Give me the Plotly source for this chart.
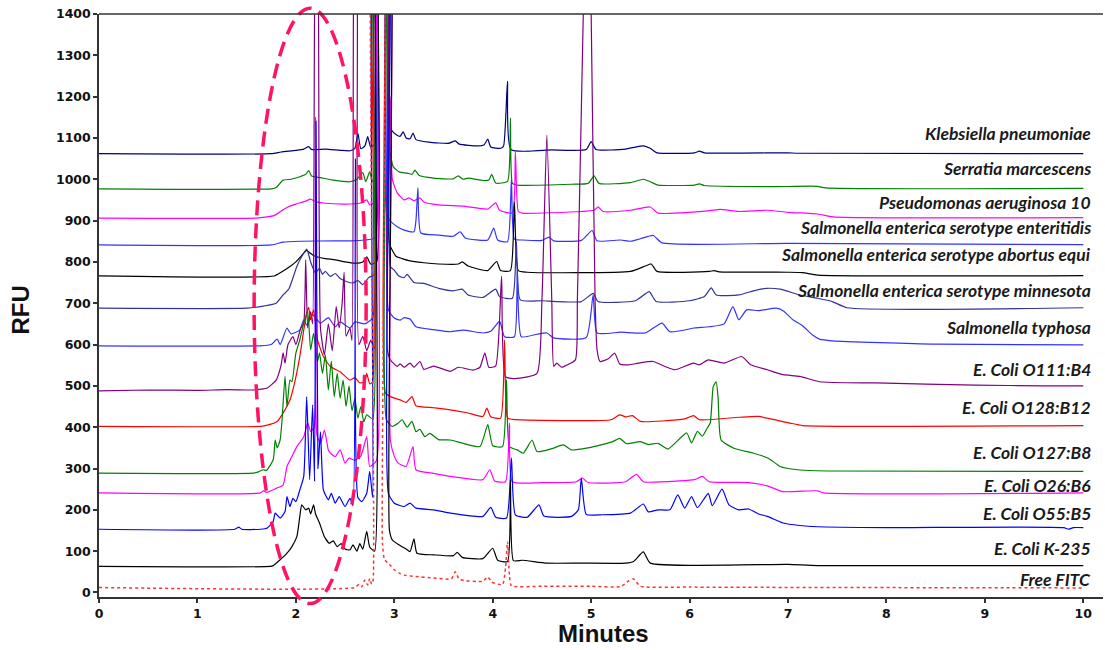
import plotly.graph_objects as go

# ---------------------------------------------------------------------------
# Electropherogram traces: (minutes, RFU) vertices, each trace already offset
# ---------------------------------------------------------------------------
KLEBSIELLA = [(0, 1062), (1.75, 1062), (1.85, 1066), (2.0, 1070), (2.08, 1073), (2.13, 1079), (2.16, 1072),
              (2.3, 1073), (2.45, 1070), (2.55, 1069), (2.60, 1075), (2.63, 1112), (2.66, 1074), (2.70, 1080),
              (2.73, 1103), (2.76, 1078), (2.80, 1085), (2.82, 2200), (2.91, 2200), (2.94, 1150), (2.97, 1120),
              (3.02, 1108), (3.06, 1104), (3.09, 1115), (3.12, 1100), (3.16, 1098), (3.19, 1112), (3.22, 1096),
              (3.35, 1090), (3.55, 1087), (3.62, 1093), (3.66, 1085), (3.85, 1081), (3.91, 1083), (3.95, 1097),
              (3.98, 1078), (4.08, 1075), (4.11, 1080), (4.15, 1237), (4.185, 1072), (4.6, 1071), (4.95, 1072),
              (5.0, 1091), (5.05, 1072), (5.35, 1073), (5.45, 1078), (5.53, 1081), (5.6, 1075), (5.67, 1064),
              (6.05, 1064), (6.1, 1068), (6.15, 1064), (7.0, 1064), (7.1, 1063), (10, 1062)]

SERRATIA = [(0, 977), (1.75, 977), (1.8, 980), (1.87, 998), (1.95, 1000), (2.04, 1006), (2.1, 1012),
            (2.13, 1021), (2.16, 1008), (2.25, 1004), (2.38, 998), (2.55, 994), (2.62, 1000), (2.68, 1016),
            (2.71, 994), (2.75, 1018), (2.78, 995), (2.81, 1000), (2.83, 2200), (2.92, 2200), (2.95, 1080),
            (2.99, 1030), (3.05, 1018), (3.13, 1015), (3.18, 1012), (3.21, 1022), (3.25, 1010), (3.4, 1003),
            (3.6, 1001), (3.65, 1008), (3.7, 1000), (3.75, 1003), (3.9, 997), (3.96, 998), (3.99, 1012),
            (4.03, 991), (4.15, 995), (4.18, 1148), (4.20, 990), (4.25, 986), (4.8, 988), (4.97, 990),
            (5.03, 1008), (5.08, 990), (5.4, 992), (5.53, 1000), (5.6, 994), (5.68, 986), (6.05, 986),
            (6.1, 989), (6.15, 985), (6.8, 982), (7.3, 983), (7.38, 979), (10, 978)]

PSEUDOMONAS = [(0, 906), (1.6, 906), (1.67, 908), (1.78, 912), (1.87, 926), (1.93, 934), (2.0, 940),
               (2.1, 947), (2.15, 952), (2.2, 946), (2.3, 942), (2.5, 940), (2.65, 942), (2.72, 950),
               (2.75, 938), (2.80, 945), (2.83, 2200), (2.88, 2200), (2.91, 980), (2.94, 1000), (2.96, 1199),
               (2.98, 1000), (3.03, 967), (3.1, 950), (3.15, 955), (3.2, 948), (3.26, 955), (3.3, 945),
               (3.45, 938), (3.7, 935), (3.95, 928), (4.03, 943), (4.07, 925), (4.2, 919), (4.23, 1067),
               (4.26, 922), (4.3, 918), (4.9, 922), (5.03, 925), (5.07, 933), (5.12, 922), (5.4, 925),
               (5.6, 933), (5.68, 918), (6.2, 924), (6.31, 927), (6.5, 922), (6.79, 925), (7.0, 920),
               (7.3, 916), (7.46, 909), (10, 907)]

ENTERITIDIS = [(0, 841), (1.75, 841), (1.87, 848), (2.05, 850), (2.4, 851), (2.55, 851), (2.7, 853),
               (2.8, 858), (2.84, 2200), (2.90, 2200), (2.93, 909), (3.03, 885), (3.1, 877), (3.2, 873),
               (3.22, 900), (3.24, 979), (3.27, 870), (3.45, 865), (3.6, 862), (3.67, 873), (3.72, 858),
               (3.95, 853), (4.01, 882), (4.05, 853), (4.15, 849), (4.19, 1000), (4.22, 855), (4.3, 853),
               (4.5, 852), (4.57, 860), (4.62, 851), (4.9, 852), (5.01, 876), (5.06, 851), (5.3, 853),
               (5.4, 850), (5.5, 856), (5.63, 864), (5.72, 846), (7.0, 845), (10, 842)]

ABORTUS_EQUI = [(0, 766), (1.78, 766), (1.85, 775), (1.94, 789), (2.0, 800), (2.05, 813), (2.11, 828),
                (2.14, 822), (2.2, 813), (2.3, 808), (2.4, 805), (2.5, 800), (2.6, 797), (2.68, 800),
                (2.72, 812), (2.76, 795), (2.82, 800), (2.85, 2200), (2.92, 2200), (2.95, 845), (3.02, 813),
                (3.08, 808), (3.15, 803), (3.3, 798), (3.45, 795), (3.65, 795), (3.69, 800), (3.75, 790),
                (3.95, 779), (4.04, 801), (4.08, 779), (4.18, 779), (4.22, 945), (4.26, 779), (4.35, 775),
                (5.4, 777), (5.55, 790), (5.61, 795), (5.67, 777), (6.2, 777), (6.25, 779), (6.3, 776),
                (7.0, 775), (7.15, 774), (7.3, 768), (10, 767)]

MINNESOTA = [(0, 688), (1.5, 688), (1.67, 693), (1.8, 700), (1.87, 720), (1.93, 735), (2.01, 789),
             (2.06, 813), (2.11, 831), (2.15, 800), (2.2, 773), (2.24, 785), (2.27, 770), (2.3, 777),
             (2.35, 765), (2.4, 772), (2.45, 760), (2.52, 752), (2.58, 749), (2.63, 755), (2.68, 745),
             (2.74, 762), (2.8, 770), (2.83, 2200), (2.93, 2200), (2.96, 789), (3.0, 780), (3.05, 765),
             (3.1, 762), (3.13, 770), (3.2, 750), (3.3, 748), (3.45, 736), (3.6, 730), (3.69, 734),
             (3.75, 720), (3.9, 714), (4.03, 734), (4.07, 716), (4.20, 712), (4.24, 850), (4.28, 708),
             (4.5, 706), (4.9, 704), (5.02, 724), (5.07, 704), (5.45, 706), (5.59, 728), (5.66, 704),
             (6.0, 706), (6.15, 716), (6.22, 737), (6.27, 720), (6.5, 720), (6.65, 730), (6.78, 736),
             (6.92, 734), (7.12, 720), (7.3, 712), (7.45, 704), (7.6, 689), (10, 689)]

TYPHOSA = [(0, 597), (1.64, 597), (1.75, 600), (1.81, 613), (1.84, 600), (1.91, 640), (1.95, 626),
           (2.04, 635), (2.08, 660), (2.11, 647), (2.17, 672), (2.25, 652), (2.33, 665), (2.4, 643),
           (2.45, 655), (2.55, 640), (2.6, 655), (2.7, 650), (2.78, 665), (2.84, 2200), (2.91, 2200),
           (2.94, 684), (3.0, 664), (3.06, 659), (3.1, 665), (3.16, 662), (3.22, 643), (3.4, 636),
           (3.57, 631), (3.7, 635), (3.9, 628), (3.98, 632), (4.07, 656), (4.12, 619), (4.22, 619),
           (4.25, 780), (4.29, 619), (4.45, 625), (4.55, 628), (4.62, 616), (4.95, 617), (5.02, 720),
           (5.06, 628), (5.3, 630), (5.55, 628), (5.72, 652), (5.8, 631), (6.05, 640), (6.2, 643),
           (6.35, 650), (6.44, 692), (6.5, 660), (6.58, 684), (6.7, 682), (6.88, 688), (6.95, 682),
           (7.05, 660), (7.15, 645), (7.25, 623), (7.32, 613), (7.45, 609), (8.5, 601), (10, 599)]

O111_B4 = [(0, 488), (0.5, 490), (1.0, 489), (1.3, 491), (1.55, 490), (1.65, 492), (1.71, 495), (1.80, 514),
           (1.85, 550), (1.87, 580), (1.89, 555), (1.92, 600), (1.97, 619), (2.0, 600), (2.05, 640),
           (2.08, 652), (2.10, 805), (2.12, 640), (2.15, 680), (2.17, 650), (2.19, 1400), (2.21, 1700),
           (2.23, 1400), (2.25, 640), (2.29, 575), (2.33, 650), (2.37, 585), (2.41, 692), (2.44, 640),
           (2.47, 700), (2.49, 775), (2.51, 620), (2.55, 640), (2.57, 610), (2.585, 1400), (2.605, 1700),
           (2.625, 1400), (2.64, 600), (2.68, 620), (2.72, 585), (2.76, 610), (2.80, 590), (2.82, 2200),
           (2.90, 2200), (2.93, 587), (2.96, 563), (3.03, 547), (3.06, 553), (3.1, 545), (3.16, 555),
           (3.2, 545), (3.26, 559), (3.3, 540), (3.4, 548), (3.57, 535), (3.65, 545), (3.8, 538),
           (3.87, 545), (3.92, 580), (3.96, 545), (4.03, 548), (4.09, 765), (4.13, 522), (4.25, 518),
           (4.45, 530), (4.50, 708), (4.55, 1107), (4.60, 708), (4.62, 547), (4.65, 555), (4.7, 545),
           (4.75, 550), (4.84, 563), (4.86, 708), (4.92, 1400), (4.96, 1860), (5.0, 1400), (5.04, 708),
           (5.06, 587), (5.09, 559), (5.17, 565), (5.24, 579), (5.29, 553), (5.38, 551), (5.48, 555),
           (5.63, 559), (5.75, 547), (5.85, 539), (6.04, 555), (6.1, 551), (6.19, 563), (6.35, 555),
           (6.53, 571), (6.62, 551), (6.79, 539), (6.95, 527), (7.12, 523), (7.32, 510), (7.9, 507),
           (8.9, 502), (9.6, 500), (10, 500)]

O128_B12 = [(0, 402), (1.64, 402), (1.71, 405), (1.81, 414), (1.87, 434), (1.94, 466), (1.98, 500),
            (2.04, 571), (2.09, 650), (2.11, 676), (2.13, 690), (2.15, 660), (2.18, 684), (2.22, 611),
            (2.28, 571), (2.35, 547), (2.45, 534), (2.55, 514), (2.6, 520), (2.65, 507), (2.70, 510),
            (2.72, 530), (2.75, 505), (2.78, 510), (2.80, 2200), (2.88, 2200), (2.91, 483), (2.96, 474),
            (3.06, 466), (3.12, 460), (3.18, 474), (3.22, 452), (3.4, 447), (3.57, 442), (3.74, 435),
            (3.9, 426), (3.94, 446), (3.98, 425), (4.08, 422), (4.12, 611), (4.15, 422), (4.2, 419),
            (5.2, 418), (5.29, 430), (5.35, 425), (5.42, 428), (5.5, 414), (5.95, 420), (6.04, 428),
            (6.1, 418), (6.5, 424), (6.7, 426), (6.9, 416), (7.02, 410), (7.15, 404), (10, 404)]

O127_B8 = [(0, 289), (1.57, 289), (1.62, 292), (1.67, 297), (1.70, 295), (1.77, 321), (1.79, 369),
           (1.81, 350), (1.84, 369), (1.86, 418), (1.89, 523), (1.91, 450), (1.94, 514), (1.96, 510),
           (2.0, 579), (2.04, 611), (2.08, 652), (2.12, 680), (2.15, 587), (2.18, 627), (2.22, 559),
           (2.24, 580), (2.27, 530), (2.30, 575), (2.33, 490), (2.36, 560), (2.39, 474), (2.42, 530),
           (2.45, 470), (2.48, 514), (2.51, 450), (2.54, 500), (2.57, 440), (2.60, 470), (2.63, 422),
           (2.66, 450), (2.69, 413), (2.72, 430), (2.78, 420), (2.81, 2200), (2.89, 2200), (2.92, 418),
           (2.98, 402), (3.04, 410), (3.08, 418), (3.13, 400), (3.18, 414), (3.22, 389), (3.26, 395),
           (3.31, 377), (3.36, 385), (3.45, 370), (3.57, 369), (3.7, 361), (3.87, 353), (3.95, 406),
           (4.0, 355), (4.10, 353), (4.14, 515), (4.17, 353), (4.25, 345), (4.31, 337), (4.40, 369),
           (4.45, 341), (4.60, 348), (4.72, 357), (4.8, 345), (4.97, 350), (5.1, 357), (5.22, 365),
           (5.29, 373), (5.36, 360), (5.5, 365), (5.58, 358), (5.68, 361), (5.78, 347), (5.97, 386),
           (6.02, 362), (6.08, 390), (6.13, 378), (6.18, 398), (6.21, 410), (6.24, 498), (6.27, 510),
           (6.29, 470), (6.32, 369), (6.45, 349), (6.65, 337), (6.8, 325), (6.92, 305), (7.1, 297),
           (7.4, 294), (10, 293)]

O26_B6 = [(0, 241), (1.64, 241), (1.67, 246), (1.70, 242), (1.8, 252), (1.87, 260), (1.91, 305),
          (1.96, 329), (2.01, 353), (2.08, 377), (2.12, 410), (2.15, 390), (2.185, 400), (2.2, 1150),
          (2.215, 380), (2.25, 361), (2.29, 393), (2.33, 345), (2.36, 335), (2.4, 329), (2.45, 345),
          (2.5, 313), (2.54, 325), (2.6, 320), (2.66, 330), (2.72, 377), (2.75, 305), (2.82, 320),
          (2.85, 2200), (2.93, 2200), (2.96, 369), (3.0, 330), (3.04, 313), (3.12, 305), (3.19, 353),
          (3.22, 297), (3.4, 288), (3.57, 281), (3.9, 273), (3.97, 297), (4.02, 270), (4.13, 268),
          (4.17, 410), (4.20, 268), (4.5, 266), (4.85, 268), (4.91, 277), (4.97, 266), (5.35, 268),
          (5.46, 286), (5.53, 268), (5.9, 270), (6.05, 273), (6.13, 281), (6.2, 268), (6.6, 266),
          (6.79, 258), (6.95, 244), (7.3, 246), (7.36, 241), (10, 241)]

O55_B5 = [(0, 153), (1.38, 153), (1.42, 158), (1.45, 153), (1.64, 153), (1.71, 156), (1.77, 172),
          (1.79, 192), (1.84, 180), (1.89, 196), (1.91, 232), (1.94, 208), (1.97, 228), (2.0, 220),
          (2.04, 248), (2.08, 281), (2.11, 474), (2.14, 273), (2.17, 454), (2.19, 269), (2.205, 1140),
          (2.225, 300), (2.25, 389), (2.28, 248), (2.33, 224), (2.36, 240), (2.4, 216), (2.44, 232),
          (2.5, 208), (2.55, 228), (2.58, 210), (2.605, 1050), (2.63, 230), (2.67, 220), (2.72, 240),
          (2.75, 293), (2.78, 230), (2.83, 2200), (2.92, 2200), (2.94, 240), (3.0, 216), (3.1, 208),
          (3.16, 216), (3.22, 204), (3.4, 200), (3.57, 192), (3.9, 184), (3.98, 206), (4.03, 182),
          (4.14, 180), (4.19, 326), (4.23, 188), (4.35, 182), (4.47, 212), (4.52, 185), (4.8, 184),
          (4.87, 200), (4.9, 277), (4.95, 189), (5.1, 188), (5.4, 192), (5.53, 214), (5.58, 195),
          (5.68, 200), (5.8, 200), (5.88, 236), (5.95, 204), (6.02, 232), (6.08, 205), (6.19, 240),
          (6.23, 210), (6.33, 250), (6.4, 212), (6.5, 200), (6.6, 202), (6.7, 190), (6.79, 184),
          (6.95, 168), (7.12, 162), (7.3, 159), (8.0, 157), (9.8, 157), (9.85, 153), (9.9, 157), (10, 157)]

K_235 = [(0, 63), (1.74, 63), (1.77, 65), (1.84, 79), (1.91, 95), (1.96, 111), (2.01, 135), (2.04, 184),
         (2.06, 212), (2.10, 200), (2.13, 204), (2.15, 190), (2.18, 212), (2.2, 190), (2.24, 168),
         (2.29, 135), (2.34, 119), (2.38, 125), (2.42, 111), (2.46, 118), (2.5, 105), (2.55, 103),
         (2.58, 115), (2.62, 100), (2.65, 118), (2.68, 105), (2.72, 148), (2.75, 110), (2.80, 100),
         (2.85, 2200), (2.93, 2200), (2.95, 152), (2.98, 127), (3.05, 115), (3.12, 105), (3.16, 99),
         (3.2, 130), (3.23, 95), (3.4, 91), (3.6, 89), (3.64, 97), (3.69, 85), (3.9, 82), (4.0, 107),
         (4.05, 78), (4.15, 75), (4.18, 272), (4.21, 77), (4.3, 78), (4.55, 71), (4.9, 71), (5.35, 71),
         (5.43, 75), (5.53, 98), (5.6, 71), (7.0, 68), (7.3, 65), (10, 65)]

FREE_FITC = [(0, 12), (2.6, 12), (2.64, 20), (2.67, 14), (2.70, 30), (2.73, 18), (2.75, 34), (2.77, 20),
             (2.785, 30), (2.80, 2200), (2.86, 2200), (2.88, 120), (2.9, 80), (2.95, 68), (3.0, 55),
             (3.05, 47), (3.1, 42), (3.2, 39), (3.4, 35), (3.58, 33), (3.62, 50), (3.66, 32), (3.9, 27),
             (3.95, 38), (3.99, 25), (4.1, 19), (4.13, 60), (4.15, 123), (4.17, 40), (4.19, 16), (4.5, 15),
             (5.0, 15), (5.3, 14), (5.38, 28), (5.43, 33), (5.5, 15), (6.0, 13), (10, 11)]

NAMES = ["Klebsiella pneumoniae", "Serratia marcescens", "Pseudomonas aeruginosa 10",
         "Salmonella enterica serotype enteritidis", "Salmonella enterica serotype abortus equi",
         "Salmonella enterica serotype minnesota", "Salmonella typhosa", "E. Coli O111:B4",
         "E. Coli O128:B12", "E. Coli O127:B8", "E. Coli O26:B6", "E. Coli O55:B5", "E. Coli K-235",
         "Free FITC"]
TRACES = [KLEBSIELLA, SERRATIA, PSEUDOMONAS, ENTERITIDIS, ABORTUS_EQUI, MINNESOTA, TYPHOSA,
          O111_B4, O128_B12, O127_B8, O26_B6, O55_B5, K_235, FREE_FITC]

X_TICKS = list(range(0, 11))
Y_TICKS = list(range(0, 1401, 100))

# ---------------------------------------------------------------------------
# Styling
# ---------------------------------------------------------------------------
COLORS = ["#000080", "#008000", "#FF00FF", "#3333FF", "#000000", "#333399", "#3333FF",
          "#800080", "#FF0000", "#008000", "#FF00FF", "#0000FF", "#000000", "#FF3030"]
DASHES = ["solid"] * 13 + ["dot"]
WIDTHS = [1.2] * 13 + [1.5]
LABEL_Y = [1111, 1027, 943, 883, 817, 730, 641, 540, 447, 339, 260, 192, 107, 31]
LABEL_X = 10.1
X_RANGE = [0, 10.2]
Y_RANGE = [-11, 1400]
AXIS_COLOR = "#333333"
TICK_FONT = dict(family="DejaVu Sans", size=12.5, color="#111111", weight="bold")

fig = go.Figure()
for name, pts, color, dash, lw in zip(NAMES, TRACES, COLORS, DASHES, WIDTHS):
    fig.add_trace(go.Scatter(
        x=[p[0] for p in pts], y=[p[1] for p in pts], mode="lines", name=name,
        line=dict(color=color, width=lw, dash=dash, shape="spline", smoothing=0.5),
        showlegend=False, hoverinfo="skip"))

for name, ly in zip(NAMES, LABEL_Y):
    fig.add_annotation(x=LABEL_X, y=ly, xref="x", yref="y", text=name, showarrow=False,
                       xanchor="right", yanchor="middle",
                       font=dict(family="Lato", size=17.5, color="#1a1a1a", style="italic", weight="bold"))

# dashed ellipse highlighting the early-migrating region
ell_x = (1.576, 2.714)
ell_y = (-27, 1414)
def xfrac(v):
    return (v - X_RANGE[0]) / (X_RANGE[1] - X_RANGE[0])
def yfrac(v):
    return (v - Y_RANGE[0]) / (Y_RANGE[1] - Y_RANGE[0])
fig.add_shape(type="circle", xref="x domain", yref="y domain",
              x0=xfrac(ell_x[0]), x1=xfrac(ell_x[1]), y0=yfrac(ell_y[0]), y1=yfrac(ell_y[1]),
              line=dict(color="#FF1464", width=3.5, dash="15px,8px"), layer="above")

# top frame line
fig.add_shape(type="line", xref="paper", yref="paper", x0=0, x1=1, y0=1, y1=1,
              line=dict(color=AXIS_COLOR, width=1.5))

# axis titles
fig.add_annotation(text="Minutes", xref="paper", yref="paper", x=0.502, y=-0.062,
                   showarrow=False, xanchor="center", yanchor="middle",
                   font=dict(family="Liberation Sans", size=24, color="#111111", weight="bold"))
fig.add_annotation(text="RFU", xref="paper", yref="paper", x=-0.078, y=0.4925, textangle=-90,
                   showarrow=False, xanchor="center", yanchor="middle",
                   font=dict(family="Liberation Sans", size=24, color="#111111", weight="bold"))

fig.update_layout(
    width=1105, height=650,
    margin=dict(l=99, r=2, t=14, b=53),
    paper_bgcolor="white", plot_bgcolor="white",
    xaxis=dict(range=X_RANGE, tickvals=X_TICKS, showgrid=False, zeroline=False, showline=True,
               linecolor=AXIS_COLOR, linewidth=1.5, ticks="outside", ticklen=4, tickwidth=1.5,
               tickcolor=AXIS_COLOR, tickfont=TICK_FONT),
    yaxis=dict(range=Y_RANGE, tickvals=Y_TICKS, showgrid=False, zeroline=False, showline=True,
               linecolor=AXIS_COLOR, linewidth=1.5, ticks="outside", ticklen=4, tickwidth=1.5,
               tickcolor=AXIS_COLOR, tickfont=TICK_FONT),
)

fig.write_html("out.html")
